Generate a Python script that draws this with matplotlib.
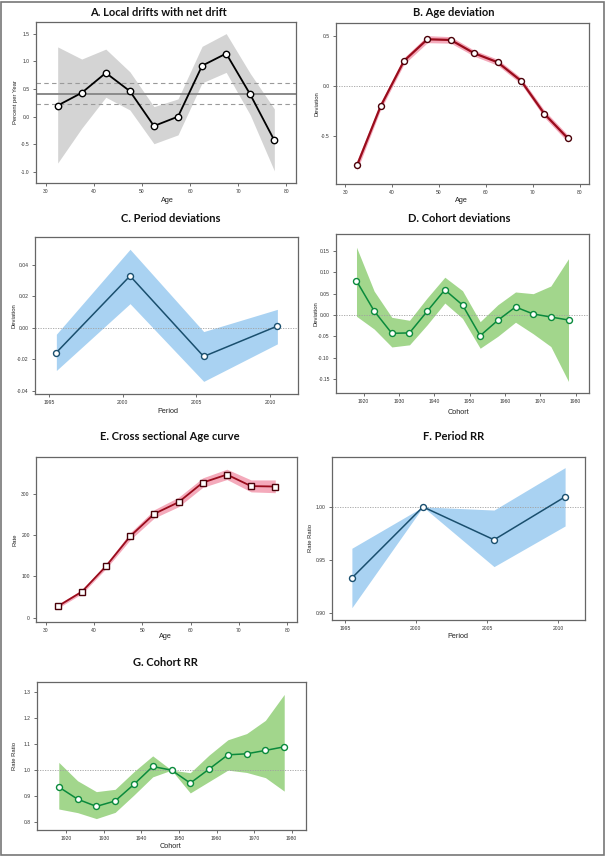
import matplotlib
matplotlib.use("Agg")
import matplotlib.pyplot as plt
from matplotlib.patches import Rectangle

plt.rcParams['axes.unicode_minus'] = False
plt.rcParams['font.family'] = ['Liberation Sans', 'DejaVu Sans']

# ---------------- data ----------------
ages = [32.5, 37.5, 42.5, 47.5, 52.5, 57.5, 62.5, 67.5, 72.5, 77.5]
periods = [1995.5, 2000.5, 2005.5, 2010.5]
cohorts = [1918, 1923, 1928, 1933, 1938, 1943, 1948, 1953, 1958, 1963, 1968, 1973, 1978]

# A. Local drifts with net drift
local_drift = [0.20, 0.43, 0.79, 0.46, -0.17, 0.00, 0.92, 1.14, 0.40, -0.43]
local_drift_hi = [1.26, 1.04, 1.22, 0.81, 0.18, 0.32, 1.27, 1.50, 0.78, 0.14]
local_drift_lo = [-0.84, -0.21, 0.35, 0.12, -0.49, -0.33, 0.61, 0.80, 0.03, -0.98]
net_drift = [0.41, 0.22, 0.60]  # estimate, lower, upper

# B. Age deviation
age_dev = [-0.79, -0.205, 0.248, 0.464, 0.457, 0.325, 0.235, 0.05, -0.28, -0.523]
age_dev_hi = [-0.74, -0.17, 0.28, 0.50, 0.49, 0.355, 0.265, 0.08, -0.245, -0.49]
age_dev_lo = [-0.84, -0.24, 0.215, 0.43, 0.425, 0.295, 0.205, 0.02, -0.315, -0.56]

# C. Period deviations
per_dev = [-0.0158, 0.0328, -0.0183, 0.0010]
per_dev_hi = [-0.0042, 0.0497, -0.0025, 0.0116]
per_dev_lo = [-0.0272, 0.0152, -0.0341, -0.0103]

# D. Cohort deviations
coh_dev = [0.080, 0.0094, -0.043, -0.042, 0.0086, 0.059, 0.0235, -0.0486,
           -0.0125, 0.0188, 0.0024, -0.0047, -0.0118]
coh_dev_hi = [0.159, 0.056, -0.0055, -0.0125, 0.040, 0.0886, 0.057, -0.0157,
              0.024, 0.054, 0.050, 0.068, 0.132]
coh_dev_lo = [-0.003, -0.033, -0.075, -0.070, -0.023, 0.028, -0.008, -0.078,
              -0.050, -0.017, -0.044, -0.074, -0.156]

# E. Cross sectional age curve
cs_rate = [27.5, 63, 125, 197.5, 252, 280, 327.5, 347, 319, 318]
cs_rate_hi = [32, 68, 131, 206, 262, 292, 339, 360, 334, 334]
cs_rate_lo = [23, 58, 119, 189, 242, 269, 316, 335, 305, 303]

# F. Period RR
per_rr = [0.933, 1.000, 0.969, 1.0095]
per_rr_hi = [0.961, 1.000, 0.997, 1.037]
per_rr_lo = [0.905, 1.000, 0.9437, 0.982]

# G. Cohort RR
coh_rr = [0.935, 0.888, 0.860, 0.881, 0.945, 1.014, 1.000, 0.950, 1.004,
          1.059, 1.063, 1.076, 1.090]
coh_rr_hi = [1.030, 0.959, 0.917, 0.926, 0.994, 1.055, 1.000, 0.990, 1.058,
             1.117, 1.141, 1.192, 1.292]
coh_rr_lo = [0.850, 0.836, 0.813, 0.837, 0.904, 0.974, 1.000, 0.912, 0.956,
             1.000, 0.991, 0.971, 0.919]

age_ticks = [30, 40, 50, 60, 70, 80]
period_ticks = [1995, 2000, 2005, 2010]
cohort_ticks = [1920, 1930, 1940, 1950, 1960, 1970, 1980]

# ---------------- styles ----------------
W, H = 605, 856
RED, PINK = '#9a0c1c', '#f4aabb'
BLUE, LBLUE = '#1a4f6e', '#a9d2f2'
GREEN, LGREEN = '#0a8a3c', '#a2d68c'
GRAY_BAND = '#d4d4d4'

fig = plt.figure(figsize=(W / 100, H / 100), dpi=100)
fig.patch.set_facecolor('white')
fig.add_artist(Rectangle((0.001, 0.001), 0.997, 0.997, transform=fig.transFigure,
                         fill=False, edgecolor='#777777', linewidth=1.2))

TFONT = ['Lato', 'DejaVu Sans']


def make_ax(box, title, title_xy, xlabel, xlab_xy, ylabel, ylab_x):
    l, t, r, b = box
    ax = fig.add_axes([l / W, 1 - b / H, (r - l) / W, (b - t) / H])
    for s in ax.spines.values():
        s.set_color('#666666')
        s.set_linewidth(0.9)
    ax.tick_params(axis='both', direction='out', length=2.5, width=0.6,
                   colors='#555555', labelsize=3.6, pad=2,
                   top=False, right=False)
    for lab in ax.get_xticklabels() + ax.get_yticklabels():
        lab.set_color('#333333')
    fig.text(title_xy[0] / W, 1 - title_xy[1] / H, title, ha='center', va='center',
             fontsize=8, fontweight='bold', family=TFONT, color='#111111')
    fig.text(xlab_xy[0] / W, 1 - xlab_xy[1] / H, xlabel, ha='center', va='center',
             fontsize=5.2, color='#222222')
    fig.text(ylab_x / W, 1 - ((t + b) / 2) / H, ylabel, ha='center', va='center',
             rotation=90, fontsize=4.2, color='#222222')
    return ax


def series(ax, x, y, lo, hi, line_c, band_c, marker='o', lw=1.4, ms=4.3, mec=None,
           zero=None):
    ax.fill_between(x, lo, hi, color=band_c, linewidth=0, zorder=1)
    if zero is not None:
        ax.axhline(zero, color='#a0a0a0', linestyle=(0, (1.5, 1.5)), linewidth=0.6,
                   zorder=2)
    ax.plot(x, y, color=line_c, linewidth=lw, zorder=3)
    ax.plot(x, y, linestyle='none', marker=marker, markersize=ms,
            markerfacecolor='white', markeredgecolor=mec or line_c,
            markeredgewidth=1.0, zorder=4)


# A
axA = make_ax((36, 22, 296, 183), 'A. Local drifts with net drift', (158, 13),
              'Age', (167, 200), 'Percent per Year', 15)
axA.fill_between(ages, local_drift_lo, local_drift_hi, color=GRAY_BAND, linewidth=0, zorder=1)
axA.axhline(net_drift[0], color='#8a8a8a', linewidth=1.4, zorder=2)
axA.axhline(net_drift[1], color='#9a9a9a', linewidth=0.8, linestyle=(0, (4, 3)), zorder=2)
axA.axhline(net_drift[2], color='#9a9a9a', linewidth=0.8, linestyle=(0, (4, 3)), zorder=2)
axA.plot(ages, local_drift, color='black', linewidth=1.3, zorder=3)
axA.plot(ages, local_drift, linestyle='none', marker='o', markersize=4.6,
         markerfacecolor='white', markeredgecolor='black', markeredgewidth=1.0, zorder=4)
axA.set_xlim(28, 82)
axA.set_ylim(-1.2, 1.71)
axA.set_xticks(age_ticks)
axA.set_yticks([-1.0, -0.5, 0.0, 0.5, 1.0, 1.5])
axA.set_yticklabels(['-1.0', '-0.5', '0.0', '0.5', '1.0', '1.5'])

# B
axB = make_ax((336, 23, 589, 184), 'B. Age deviation', (454, 12),
              'Age', (461, 200), 'Deviation', 317)
series(axB, ages, age_dev, age_dev_lo, age_dev_hi, RED, PINK, lw=1.6, mec='#4a0008', zero=0.0)
axB.set_xlim(28, 82)
axB.set_ylim(-0.977, 0.626)
axB.set_xticks(age_ticks)
axB.set_yticks([-0.5, 0.0, 0.5])
axB.set_yticklabels(['-0.5', '0.0', '0.5'])

# C
axC = make_ax((35, 237, 298, 394), 'C. Period deviations', (171, 218),
              'Period', (168, 411), 'Deviation', 14)
series(axC, periods, per_dev, per_dev_lo, per_dev_hi, BLUE, LBLUE, lw=1.1, zero=0.0)
axC.set_xlim(1994.05, 2011.9)
axC.set_ylim(-0.0421, 0.0575)
axC.set_xticks(period_ticks)
axC.set_yticks([-0.04, -0.02, 0.0, 0.02, 0.04])
axC.set_yticklabels(['-0.04', '-0.02', '0.00', '0.02', '0.04'])

# D
axD = make_ax((336, 234, 589, 393), 'D. Cohort deviations', (459, 218),
              'Cohort', (459, 412), 'Deviation', 316)
series(axD, cohorts, coh_dev, coh_dev_lo, coh_dev_hi, GREEN, LGREEN, lw=1.1, zero=0.0)
axD.set_xlim(1912.2, 1983.8)
axD.set_ylim(-0.183, 0.19)
axD.set_xticks(cohort_ticks)
axD.set_yticks([-0.15, -0.10, -0.05, 0.0, 0.05, 0.10, 0.15])
axD.set_yticklabels(['-0.15', '-0.10', '-0.05', '0.00', '0.05', '0.10', '0.15'])

# E
axE = make_ax((36, 457, 297, 622), 'E. Cross sectional Age curve', (170, 437),
              'Age', (165, 637), 'Rate', 15)
series(axE, ages, cs_rate, cs_rate_lo, cs_rate_hi, RED, PINK, marker='s', lw=1.3,
       ms=4.0, mec='#4a0008')
axE.set_xlim(28, 82)
axE.set_ylim(-10.5, 389.6)
axE.set_xticks(age_ticks)
axE.set_yticks([0, 100, 200, 300])

# F
axF = make_ax((332, 457, 585, 620), 'F. Period RR', (454, 437),
              'Period', (458, 637), 'Rate Ratio', 311)
series(axF, periods, per_rr, per_rr_lo, per_rr_hi, BLUE, LBLUE, lw=1.1, zero=1.0)
axF.set_xlim(1994.1, 2011.9)
axF.set_ylim(0.8934, 1.047)
axF.set_xticks(period_ticks)
axF.set_yticks([0.90, 0.95, 1.00])
axF.set_yticklabels(['0.90', '0.95', '1.00'])

# G
axG = make_ax((37, 682, 306, 830), 'G. Cohort RR', (165, 662),
              'Cohort', (171, 846), 'Rate Ratio', 15)
series(axG, cohorts, coh_rr, coh_rr_lo, coh_rr_hi, GREEN, LGREEN, lw=1.1, zero=1.0)
axG.set_xlim(1912.2, 1983.8)
axG.set_ylim(0.769, 1.34)
axG.set_xticks(cohort_ticks)
axG.set_yticks([0.8, 0.9, 1.0, 1.1, 1.2, 1.3])
axG.set_yticklabels(['0.8', '0.9', '1.0', '1.1', '1.2', '1.3'])

fig.savefig('out.png', dpi=100)
